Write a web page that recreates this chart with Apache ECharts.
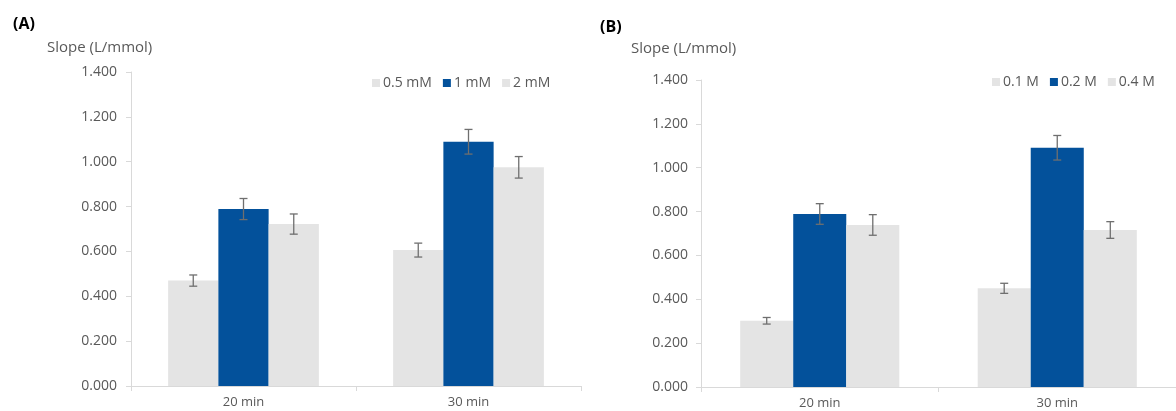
<!DOCTYPE html>
<html><head><meta charset="utf-8">
<script src="https://cdn.jsdelivr.net/npm/echarts@6/dist/echarts.min.js"></script>
<style>html,body{margin:0;padding:0;background:#fff}#c{width:1176px;height:411px}</style>
</head><body><div id="c"></div>
<script>
const categories = ['20 min', '30 min'];
const yTicks = [0, 0.2, 0.4, 0.6, 0.8, 1.0, 1.2, 1.4];
// Panel A
const namesA = ['0.5 mM', '1 mM', '2 mM'];
const a05 = [0.470, 0.606];
const a05Err = [0.025, 0.031];
const a1 = [0.789, 1.089];
const a1Err = [0.047, 0.055];
const a2 = [0.722, 0.975];
const a2Err = [0.045, 0.048];
// Panel B
const namesB = ['0.1 M', '0.2 M', '0.4 M'];
const b01 = [0.302, 0.450];
const b01Err = [0.015, 0.023];
const b02 = [0.789, 1.091];
const b02Err = [0.047, 0.056];
const b04 = [0.739, 0.716];
const b04Err = [0.047, 0.038];

const GRAY = '#e4e4e4', BLUE = '#03519b';
const FONT = '"Open Sans", "Noto Sans", sans-serif';
const colors = [GRAY, BLUE, GRAY];
const GAP = 0.33;

function barSeries(name, data, idx, color) {
  return { type: 'bar', name, data, xAxisIndex: idx, yAxisIndex: idx,
    barGap: '0%', barCategoryGap: '33%', itemStyle: { color }, emphasis: { disabled: true }, silent: true };
}
function errSeries(vals, errs, slot, idx) {
  return {
    type: 'custom', xAxisIndex: idx, yAxisIndex: idx, silent: true, z: 10,
    data: vals.map((v, i) => [i, v, errs[i]]),
    renderItem: function (params, api) {
      const band = api.size([1, 0])[0];
      const bw = band * (1 - GAP) / 3;
      const c = api.coord([api.value(0), api.value(1)]);
      const x = c[0] + (slot - 1) * bw;
      const top = api.coord([api.value(0), api.value(1) + api.value(2)])[1];
      const bot = api.coord([api.value(0), api.value(1) - api.value(2)])[1];
      const hw = 4;
      const st = { stroke: '#6f6f6f', lineWidth: 1.3 };
      return { type: 'group', children: [
        { type: 'line', shape: { x1: x, y1: top, x2: x, y2: bot }, style: st },
        { type: 'line', shape: { x1: x - hw, y1: top, x2: x + hw, y2: top }, style: st },
        { type: 'line', shape: { x1: x - hw, y1: bot, x2: x + hw, y2: bot }, style: st }
      ]};
    }
  };
}
function yAxis(idx, margin) {
  return { type: 'value', gridIndex: idx, min: 0, max: 1.4, interval: 0.2,
    axisLine: { show: true, lineStyle: { color: '#d9d9d9' } },
    axisTick: { show: true, length: 5, lineStyle: { color: '#d9d9d9' } },
    splitLine: { show: false },
    axisLabel: { margin, color: '#595959', fontSize: 14, fontFamily: FONT,
      formatter: v => yTicks.includes(Math.round(v * 10) / 10) ? v.toFixed(3) : '' } };
}
function xAxis(idx) {
  return { type: 'category', gridIndex: idx, data: categories,
    axisLine: { lineStyle: { color: '#d9d9d9' } },
    axisTick: { show: true, length: 5, lineStyle: { color: '#d9d9d9' } },
    axisLabel: { margin: 10, color: '#595959', fontSize: 13, fontFamily: FONT } };
}

const option = {
  animation: false,
  textStyle: { fontFamily: FONT },
  title: [
    { text: '(A)', left: 8, top: 11, textStyle: { fontSize: 16, fontWeight: 'bold', color: '#000', fontFamily: FONT } },
    { text: 'Slope (L/mmol)', left: 42, top: 35, textStyle: { fontSize: 15, fontWeight: 'normal', color: '#595959', fontFamily: FONT } },
    { text: '(B)', left: 595, top: 14, textStyle: { fontSize: 16, fontWeight: 'bold', color: '#000', fontFamily: FONT } },
    { text: 'Slope (L/mmol)', left: 626, top: 36, textStyle: { fontSize: 15, fontWeight: 'normal', color: '#595959', fontFamily: FONT } }
  ],
  legend: [
    { data: namesA, left: 367, top: 71, icon: 'rect', itemWidth: 8, itemHeight: 8, itemGap: 11,
      textStyle: { color: '#595959', fontSize: 14, fontFamily: FONT, padding: [0, 0, 0, -2] } },
    { data: namesB, left: 987, top: 70, icon: 'rect', itemWidth: 8, itemHeight: 8, itemGap: 11,
      textStyle: { color: '#595959', fontSize: 14, fontFamily: FONT, padding: [0, 0, 0, -2] } }
  ],
  grid: [
    { left: 131, top: 72, width: 450, bottom: 25 },
    { left: 701, top: 80, width: 488, bottom: 24 }
  ],
  xAxis: [xAxis(0), xAxis(1)],
  yAxis: [yAxis(0, 14), yAxis(1, 13)],
  series: [
    barSeries(namesA[0], a05, 0, colors[0]),
    barSeries(namesA[1], a1, 0, colors[1]),
    barSeries(namesA[2], a2, 0, colors[2]),
    errSeries(a05, a05Err, 0, 0),
    errSeries(a1, a1Err, 1, 0),
    errSeries(a2, a2Err, 2, 0),
    barSeries(namesB[0], b01, 1, colors[0]),
    barSeries(namesB[1], b02, 1, colors[1]),
    barSeries(namesB[2], b04, 1, colors[2]),
    errSeries(b01, b01Err, 0, 1),
    errSeries(b02, b02Err, 1, 1),
    errSeries(b04, b04Err, 2, 1)
  ]
};
const chart = echarts.init(document.getElementById('c'), null, { renderer: 'canvas' });
chart.setOption(option);
</script></body></html>
